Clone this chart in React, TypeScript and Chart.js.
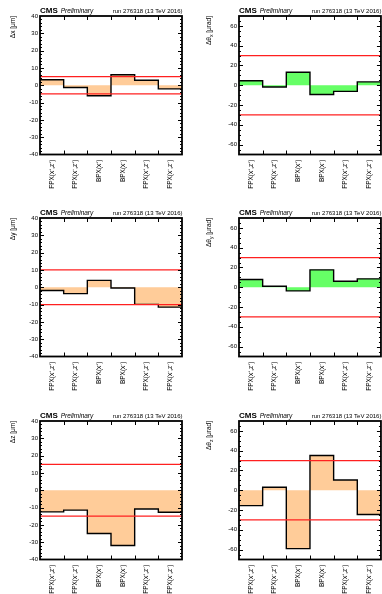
import React, { useEffect, useRef } from 'react';
import { Chart, registerables } from 'chart.js';

Chart.register(...registerables);

// ---------- data ----------
const categories = ['FPX(x⁺,z⁺)', 'FPX(x⁻,z⁺)', 'BPX(x⁺)', 'BPX(x⁻)', 'FPX(x⁺,z⁻)', 'FPX(x⁻,z⁻)'];
const binEdges = [0, 1, 2, 3, 4, 5, 6];
const binCenters = [0.5, 1.5, 2.5, 3.5, 4.5, 5.5];

const deltaX = [3.2, -1.3, -6.1, 6.1, 2.9, -2.1];
const deltaThetaX = [4.5, -1.7, 13.1, -9.3, -6.2, 3.4];
const deltaY = [-1.9, -3.7, 4.0, -0.4, -9.9, -11.5];
const deltaThetaY = [7.8, 1.0, -3.7, 17.6, 6.1, 8.5];
const deltaZ = [-12.5, -11.5, -25.0, -31.9, -10.8, -12.7];
const deltaThetaZ = [-15.5, 3.1, -59.0, 35.2, 10.3, -24.5];

const limitX = 5;
const limitY = 10;
const limitZ = 15;
const limitTheta = 30;

const posTicks = [-40, -30, -20, -10, 0, 10, 20, 30, 40];
const angTicks = [-60, -40, -20, 0, 20, 40, 60];

const cmsLabel = 'CMS';
const prelimLabel = 'Preliminary';
const runLabel = 'run 276318 (13 TeV 2016)';

// ---------- styling ----------
const FONT = '"Liberation Sans", Arial, Helvetica, sans-serif';
const ORANGE = '#ffcc99';
const GREEN = '#66ff66';
const RED = '#ff2020';

type TitleParts = { base: string; sub?: string; unit: string };

type PanelDef = {
  values: number[];
  limit: number;
  min: number;
  max: number;
  major: number[];
  majorStep: number;
  minorStep: number;
  title: TitleParts;
  row: number;
  col: number;
};

const panels: PanelDef[] = [
  { values: deltaX, limit: limitX, min: -40, max: 40, major: posTicks, majorStep: 10, minorStep: 2, title: { base: 'Δx', unit: ' [μm]' }, row: 0, col: 0 },
  { values: deltaThetaX, limit: limitTheta, min: -70, max: 70, major: angTicks, majorStep: 20, minorStep: 5, title: { base: 'Δθ', sub: 'x', unit: ' [μrad]' }, row: 0, col: 1 },
  { values: deltaY, limit: limitY, min: -40, max: 40, major: posTicks, majorStep: 10, minorStep: 2, title: { base: 'Δy', unit: ' [μm]' }, row: 1, col: 0 },
  { values: deltaThetaY, limit: limitTheta, min: -70, max: 70, major: angTicks, majorStep: 20, minorStep: 5, title: { base: 'Δθ', sub: 'y', unit: ' [μrad]' }, row: 1, col: 1 },
  { values: deltaZ, limit: limitZ, min: -40, max: 40, major: posTicks, majorStep: 10, minorStep: 2, title: { base: 'Δz', unit: ' [μm]' }, row: 2, col: 0 },
  { values: deltaThetaZ, limit: limitTheta, min: -70, max: 70, major: angTicks, majorStep: 20, minorStep: 5, title: { base: 'Δθ', sub: 'z', unit: ' [μrad]' }, row: 2, col: 1 },
];

const colLeft = [0, 199];
const colWidth = [190, 183];
const rowTop = [0, 202, 405];
const rowHeight = [202, 203, 189];
const CHART_TOP = 16;
const CHART_BOTTOM = 154.5;
const Y_AXIS_W = 40;
const yTitleX = [13.5, 10.5];

function Panel({ def }: { def: PanelDef }) {
  const ref = useRef<HTMLCanvasElement | null>(null);
  const W = colWidth[def.col];
  const H = rowHeight[def.row];

  useEffect(() => {
    const canvas = ref.current;
    if (!canvas) return;
    const exceeds = def.values.some((v) => Math.abs(v) > def.limit);
    const fillColor = exceeds ? ORANGE : GREEN;
    const stepData = binEdges.map((e, i) => ({ x: e, y: def.values[Math.min(i, def.values.length - 1)] }));

    const rootStyle = {
      id: 'rootStyle',
      afterDraw(chart: any) {
        const ctx = chart.ctx as CanvasRenderingContext2D;
        const { left, right, top, bottom } = chart.chartArea;
        const xs = chart.scales.x;
        const ys = chart.scales.y;
        ctx.save();
        ctx.strokeStyle = '#000';
        // x tick marks at bin edges
        ctx.lineWidth = 1;
        ctx.beginPath();
        for (let i = 1; i < binEdges.length - 1; i++) {
          const px = Math.round(xs.getPixelForValue(binEdges[i])) + 0.5;
          ctx.moveTo(px, bottom);
          ctx.lineTo(px, bottom - 4);
          ctx.moveTo(px, top);
          ctx.lineTo(px, top + 4);
        }
        // y tick marks
        const n = Math.round((def.max - def.min) / def.minorStep);
        for (let k = 1; k < n; k++) {
          const v = def.min + k * def.minorStep;
          const isMajor = Math.abs(v % def.majorStep) < 1e-9;
          const len = isMajor ? 4 : 2;
          const py = Math.round(ys.getPixelForValue(v)) + 0.5;
          ctx.moveTo(left, py);
          ctx.lineTo(left + len, py);
          ctx.moveTo(right, py);
          ctx.lineTo(right - len, py);
        }
        ctx.stroke();
        // frame
        ctx.lineWidth = 1.8;
        ctx.strokeRect(left, top, right - left, bottom - top);

        // header
        ctx.fillStyle = '#000';
        ctx.textBaseline = 'alphabetic';
        const baseY = top - 3.5;
        ctx.font = `bold 8px ${FONT}`;
        ctx.textAlign = 'left';
        ctx.fillText(cmsLabel, left, baseY);
        const cmsW = ctx.measureText(cmsLabel).width;
        ctx.font = `italic 6.5px ${FONT}`;
        ctx.fillText(prelimLabel, left + cmsW + 3, baseY);
        ctx.font = `6px ${FONT}`;
        ctx.textAlign = 'right';
        ctx.fillText(runLabel, right + 0.5, baseY);

        // y-axis title (rotated, end aligned to top of axis)
        const parts: { text: string; font: string; dy: number }[] = [
          { text: def.title.base, font: `6.5px ${FONT}`, dy: 0 },
        ];
        if (def.title.sub) parts.push({ text: def.title.sub, font: `5px ${FONT}`, dy: 1.8 });
        parts.push({ text: def.title.unit, font: `6.5px ${FONT}`, dy: 0 });
        let total = 0;
        for (const p of parts) {
          ctx.font = p.font;
          total += ctx.measureText(p.text).width;
        }
        ctx.translate(yTitleX[def.col], top);
        ctx.rotate(-Math.PI / 2);
        ctx.textAlign = 'left';
        ctx.textBaseline = 'middle';
        let cursor = -total;
        for (const p of parts) {
          ctx.font = p.font;
          ctx.fillText(p.text, cursor, p.dy);
          cursor += ctx.measureText(p.text).width;
        }
        ctx.restore();
      },
    };

    const chart = new Chart(canvas, {
      type: 'line',
      data: {
        datasets: [
          {
            label: 'upper limit',
            data: [{ x: binEdges[0], y: def.limit }, { x: binEdges[binEdges.length - 1], y: def.limit }],
            borderColor: RED,
            borderWidth: 1.2,
            pointRadius: 0,
            fill: false,
            order: 0,
          },
          {
            label: 'lower limit',
            data: [{ x: binEdges[0], y: -def.limit }, { x: binEdges[binEdges.length - 1], y: -def.limit }],
            borderColor: RED,
            borderWidth: 1.2,
            pointRadius: 0,
            fill: false,
            order: 0,
          },
          {
            label: 'shift',
            data: stepData,
            stepped: 'before',
            borderColor: '#000',
            borderWidth: 1.4,
            pointRadius: 0,
            fill: 'origin',
            backgroundColor: fillColor,
            order: 1,
          },
        ],
      },
      options: {
        animation: false,
        responsive: false,
        devicePixelRatio: 1,
        layout: { padding: { top: CHART_TOP, right: W - 182, bottom: 0, left: 0 } },
        plugins: {
          legend: { display: false },
          tooltip: { enabled: false },
          title: { display: false },
        },
        scales: {
          x: {
            type: 'linear',
            min: binEdges[0],
            max: binEdges[binEdges.length - 1],
            grid: { display: false, drawTicks: false },
            border: { display: false },
            afterBuildTicks: (s: any) => {
              s.ticks = binCenters.map((v) => ({ value: v }));
            },
            afterFit: (s: any) => {
              s.height = H - CHART_BOTTOM;
            },
            ticks: {
              autoSkip: false,
              minRotation: 90,
              maxRotation: 90,
              padding: 5,
              color: '#000',
              font: { family: FONT, size: 6.5 },
              callback: (_v: any, i: number) => categories[i],
            },
          },
          y: {
            type: 'linear',
            min: def.min,
            max: def.max,
            grid: { display: false, drawTicks: false },
            border: { display: false },
            afterBuildTicks: (s: any) => {
              s.ticks = def.major.map((v) => ({ value: v }));
            },
            afterFit: (s: any) => {
              s.width = Y_AXIS_W;
            },
            ticks: {
              padding: 2,
              color: '#000',
              font: { family: FONT, size: 6 },
              callback: (v: any) => String(v),
            },
          },
        },
      },
      plugins: [rootStyle],
    } as any);
    return () => chart.destroy();
  }, [def, W, H]);

  return (
    <canvas
      ref={ref}
      width={W}
      height={H}
      style={{ position: 'absolute', left: colLeft[def.col], top: rowTop[def.row], width: W, height: H }}
    />
  );
}

export default function App() {
  return (
    <div style={{ position: 'absolute', left: 0, top: 0, width: 382, height: 594, background: '#fff', overflow: 'hidden' }}>
      {panels.map((p, i) => (
        <Panel key={i} def={p} />
      ))}
    </div>
  );
}
